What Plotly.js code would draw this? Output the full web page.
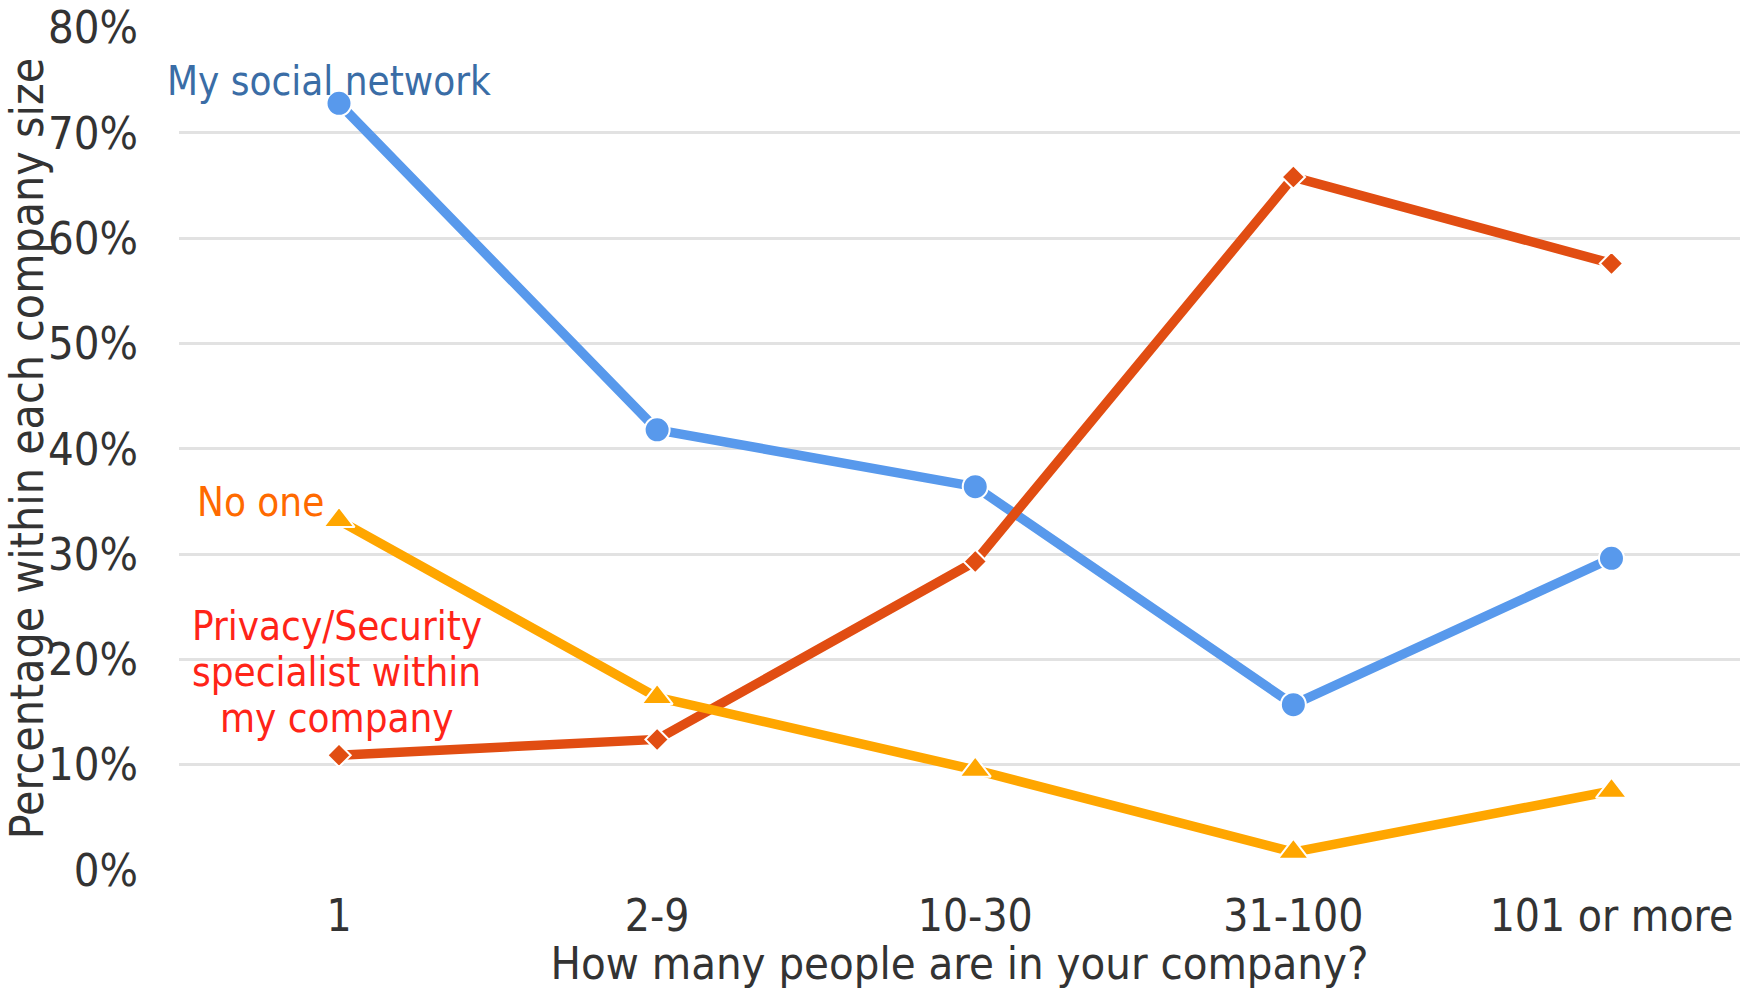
<!DOCTYPE html>
<html>
<head>
<meta charset="utf-8">
<script src="https://cdn.plot.ly/plotly-3.0.1.min.js"></script>
<style>html,body{margin:0;padding:0;background:#fff;}#chart{width:1753px;height:990px;}</style>
</head>
<body>
<div id="chart"></div>
<script>
const categories = ["1", "2-9", "10-30", "31-100", "101 or more"];
const socialNetwork = [0.728, 0.418, 0.364, 0.157, 0.296];
const privacySpecialist = [0.109, 0.124, 0.293, 0.658, 0.576];
const noOne = [0.332, 0.164, 0.095, 0.017, 0.075];
const seriesNames = ["My social network", "Privacy/Security specialist within my company", "No one"];
const yTickVals = [0, 0.1, 0.2, 0.3, 0.4, 0.5, 0.6, 0.7, 0.8];

const FONT = "'DejaVu Sans Condensed', 'Liberation Sans Narrow', 'DejaVu Sans', sans-serif";
const xIdx = categories.map((c, i) => i);

const traces = [
  {x: xIdx, y: socialNetwork, name: seriesNames[0], mode: "lines+markers",
   line: {color: "#5899EC", width: 9.5},
   marker: {symbol: "circle", size: 25, color: "#5899EC", line: {color: "#ffffff", width: 2}}},
  {x: xIdx, y: privacySpecialist, name: seriesNames[1], mode: "lines+markers",
   line: {color: "#E14D12", width: 9.5},
   marker: {symbol: "diamond", size: 18, color: "#E14D12", line: {color: "#ffffff", width: 2}}},
  {x: xIdx, y: noOne, name: seriesNames[2], mode: "lines+markers",
   line: {color: "#FFA600", width: 9.5},
   marker: {symbol: "triangle-up", size: 27, color: "#FFA600", line: {color: "#ffffff", width: 2}}}
];

const layout = {
  width: 1753, height: 990,
  margin: {l: 179, r: 13, t: 27, b: 120},
  paper_bgcolor: "#ffffff", plot_bgcolor: "#ffffff",
  showlegend: false,
  font: {family: FONT, color: "#333333", size: 45},
  xaxis: {
    range: [-0.503, 4.404],
    tickmode: "array", tickvals: xIdx, ticktext: categories,
    showgrid: false, zeroline: false, showline: false, ticks: "",
    ticklabelstandoff: 16,
    tickfont: {size: 44, color: "#333333"},
    title: {text: "How many people are in your company?", font: {size: 45, color: "#333333"}, standoff: 3}
  },
  yaxis: {
    range: [0, 0.8005],
    tickmode: "array", tickvals: yTickVals, tickformat: ".0%",
    showgrid: true, gridcolor: "#e2e2e2", gridwidth: 3,
    zeroline: false, showline: false, ticks: "",
    ticklabelstandoff: 40,
    tickfont: {size: 45, color: "#333333"},
    title: {text: "Percentage within each company size", font: {size: 46, color: "#333333"}, standoff: 0}
  },
  annotations: [
    {xref: "x", yref: "y", x: -0.03, y: 0.749, text: seriesNames[0], showarrow: false,
     xanchor: "center", yanchor: "middle", font: {size: 40, color: "#3A6DA6"}},
    {xref: "x", yref: "y", x: -0.246, y: 0.349, text: "No one", showarrow: false,
     xanchor: "center", yanchor: "middle", font: {size: 40, color: "#FF6A00"}},
    {xref: "x", yref: "y", x: -0.007, y: 0.232, text: "Privacy/Security", showarrow: false,
     xanchor: "center", yanchor: "middle", font: {size: 40, color: "#FF2418"}},
    {xref: "x", yref: "y", x: -0.007, y: 0.188, text: "specialist within", showarrow: false,
     xanchor: "center", yanchor: "middle", font: {size: 40, color: "#FF2418"}},
    {xref: "x", yref: "y", x: -0.007, y: 0.144, text: "my company", showarrow: false,
     xanchor: "center", yanchor: "middle", font: {size: 40, color: "#FF2418"}}
  ]
};

Plotly.newPlot("chart", traces, layout, {displayModeBar: false, staticPlot: true});
</script>
</body>
</html>
